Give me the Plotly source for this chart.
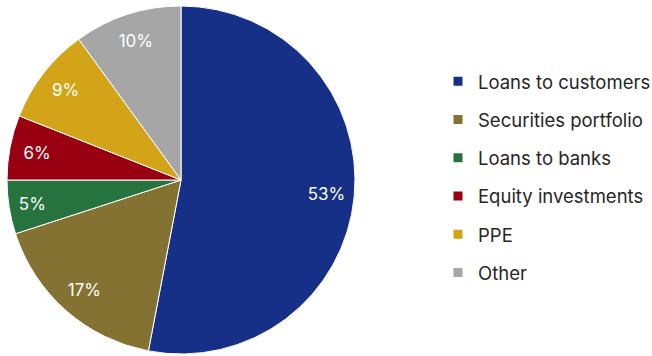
import plotly.graph_objects as go

# Asset composition (share of total, %)
categories = ["Loans to customers", "Securities portfolio", "Loans to banks",
              "Equity investments", "PPE", "Other"]
shares = [53, 17, 5, 6, 9, 10]
colors = ["#173087", "#847232", "#267340", "#990012", "#D4A418", "#A6A6A6"]

W, H = 652, 356
pie_domain = dict(x=[7 / W, 355 / W], y=[1 - 354 / H, 1 - 6 / H])

fig = go.Figure()

# Filled slices
fig.add_trace(go.Pie(
    labels=categories,
    values=shares,
    marker=dict(colors=colors, line=dict(color="white", width=1)),
    sort=False,
    direction="clockwise",
    rotation=0,
    textinfo="none",
    hoverinfo="label+percent",
    showlegend=False,
    domain=pie_domain,
))

# Transparent ring on top that carries the percentage labels near the rim
fig.add_trace(go.Pie(
    labels=categories,
    values=shares,
    hole=0.68,
    marker=dict(colors=["rgba(0,0,0,0)"] * len(categories),
                line=dict(width=0)),
    sort=False,
    direction="clockwise",
    rotation=0,
    texttemplate="%{value}%",
    textposition="inside",
    insidetextorientation="horizontal",
    textfont=dict(family="Inter", size=17, color="white"),
    hoverinfo="skip",
    showlegend=False,
    domain=pie_domain,
))

# Legend entries, one per category, so that rows can be spaced apart
for name, col in zip(categories, colors):
    fig.add_trace(go.Scatter(
        x=[None], y=[None], mode="markers", name=name, legendgroup=name,
        marker=dict(symbol="square", size=9, color=col),
        showlegend=True,
    ))

fig.update_layout(
    width=W, height=H,
    margin=dict(l=0, r=0, t=0, b=0, autoexpand=False),
    paper_bgcolor="white",
    plot_bgcolor="white",
    xaxis=dict(visible=False),
    yaxis=dict(visible=False),
    font=dict(family="Inter", color="#262626"),
    legend=dict(
        x=438 / W, y=0.502, xanchor="left", yanchor="middle",
        font=dict(family="Inter", size=18.5, color="#262626"),
        traceorder="grouped",
        tracegroupgap=11.2,
        itemsizing="trace",
        bgcolor="rgba(0,0,0,0)",
    ),
)

fig.write_html("out.html")
